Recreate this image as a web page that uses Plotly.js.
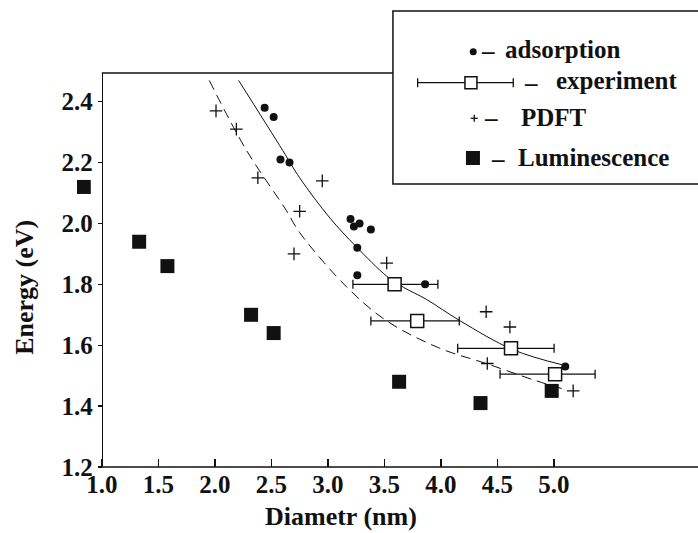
<!DOCTYPE html>
<html>
<head>
<meta charset="utf-8">
<script src="https://cdn.plot.ly/plotly-3.0.1.min.js"></script>
</head>
<body style="margin:0">
<div id="chart" style="width:698px;height:533px"></div>
<script>
// ---- data ----
var lumX = [0.84, 1.33, 1.58, 2.32, 2.52, 3.63, 4.35, 4.98];
var lumY = [2.12, 1.94, 1.86, 1.70, 1.64, 1.48, 1.41, 1.45];

var adsX = [2.44, 2.52, 2.58, 2.66, 3.20, 3.23, 3.28, 3.38, 3.26, 3.26, 3.86, 5.10];
var adsY = [2.38, 2.35, 2.21, 2.20, 2.015, 1.99, 2.00, 1.98, 1.92, 1.83, 1.80, 1.53];

var pdftX = [2.01, 2.19, 2.38, 2.70, 2.75, 2.95, 3.52, 4.40, 4.61, 4.41, 5.17];
var pdftY = [2.37, 2.31, 2.15, 1.90, 2.04, 2.14, 1.87, 1.71, 1.66, 1.54, 1.45];

var expX = [3.59, 3.79, 4.62, 5.01];
var expY = [1.80, 1.68, 1.59, 1.505];
var expErrPlus = [0.383, 0.372, 0.381, 0.354];
var expErrMinus = [0.369, 0.410, 0.472, 0.487];

var fitAdsX = [2.21, 2.60, 2.75, 3.02, 3.25, 3.52, 3.67, 3.87, 4.17, 4.64, 5.08];
var fitAdsY = [2.47, 2.24, 2.15, 2.017, 1.924, 1.827, 1.79, 1.751, 1.68, 1.585, 1.535];

var fitPdftX = [1.95, 2.28, 2.63, 2.75, 3.17, 3.52, 3.99, 4.40, 4.82, 5.11];
var fitPdftY = [2.47, 2.24, 2.044, 1.97, 1.79, 1.68, 1.59, 1.54, 1.486, 1.453];

var xTicks = [1.0, 1.5, 2.0, 2.5, 3.0, 3.5, 4.0, 4.5, 5.0];
var yTicks = [1.2, 1.4, 1.6, 1.8, 2.0, 2.2, 2.4];

var legendLabels = ['adsorption', 'experiment', 'PDFT', 'Luminescence'];
var xTitle = 'Diametr (nm)';
var yTitle = 'Energy (eV)';

// ---- layout geometry ----
var W = 698, H = 533, MT = 73, MB = 66;
var XPX = 113;
var SPINE = 102;
var XMIN = 0.78;
var ML = SPINE - (1.0 - XMIN) * XPX, MR = 0;
var PW = W - ML - MR, PH = H - MT - MB;
function px(x) { return (x - ML) / PW; }
function py(y) { return (H - MB - y) / PH; }

var serifFamily = 'Liberation Serif';
var INK = '#111';
function mkFont(size) { return { family: serifFamily, size: size, color: INK, weight: 'bold' }; }

var traces = [
  { x: fitAdsX, y: fitAdsY, mode: 'lines', line: { color: INK, width: 1, shape: 'spline', smoothing: 1 }, hoverinfo: 'skip', showlegend: false },
  { x: fitPdftX, y: fitPdftY, mode: 'lines', line: { color: INK, width: 1, shape: 'spline', smoothing: 1, dash: '10px,6px' }, hoverinfo: 'skip', showlegend: false },
  { x: lumX, y: lumY, mode: 'markers', name: legendLabels[3],
    marker: { symbol: 'square', size: 14, color: INK } },
  { x: adsX, y: adsY, mode: 'markers', name: legendLabels[0],
    marker: { symbol: 'circle', size: 8, color: INK } },
  { x: pdftX, y: pdftY, mode: 'markers', name: legendLabels[2], cliponaxis: false,
    marker: { symbol: 'cross-thin-open', size: 9, color: INK, line: { color: INK, width: 1.3 } } },
  { x: expX, y: expY, mode: 'markers', name: legendLabels[1], cliponaxis: false,
    error_x: { type: 'data', symmetric: false, array: expErrPlus, arrayminus: expErrMinus, color: INK, thickness: 1.3, width: 4.5 },
    marker: { symbol: 'square', size: 13, color: '#fff', line: { color: INK, width: 1.5 } } }
];

var lx0 = 393, ly0 = 11, ly1 = 184;
var shapes = [
  { type: 'line', xref: 'paper', yref: 'paper', x0: px(SPINE), x1: 1.02, y0: 0, y1: 0, line: { color: INK, width: 1.5 } },
  { type: 'line', xref: 'paper', yref: 'paper', x0: px(SPINE), x1: px(lx0), y0: 1, y1: 1, line: { color: INK, width: 1.5 } },
  { type: 'rect', xref: 'paper', yref: 'paper', x0: px(lx0), x1: px(W + 10), y0: py(ly1), y1: py(ly0), fillcolor: '#fff', line: { color: INK, width: 1.5 }, layer: 'above' },
  { type: 'circle', xref: 'paper', yref: 'paper', x0: px(469.8), x1: px(476.8), y0: py(55.2), y1: py(48.2), fillcolor: INK, line: { color: INK, width: 0 } },
  { type: 'line', xref: 'paper', yref: 'paper', x0: px(417.7), x1: px(513.3), y0: py(82.7), y1: py(82.7), line: { color: INK, width: 1.3 } },
  { type: 'line', xref: 'paper', yref: 'paper', x0: px(417.7), x1: px(417.7), y0: py(78.2), y1: py(87.2), line: { color: INK, width: 1.3 } },
  { type: 'line', xref: 'paper', yref: 'paper', x0: px(513.3), x1: px(513.3), y0: py(78.2), y1: py(87.2), line: { color: INK, width: 1.3 } },
  { type: 'rect', xref: 'paper', yref: 'paper', x0: px(465), x1: px(477), y0: py(88.7), y1: py(76.7), fillcolor: '#fff', line: { color: INK, width: 1.5 } },
  { type: 'line', xref: 'paper', yref: 'paper', x0: px(470.8), x1: px(477.8), y0: py(118.3), y1: py(118.3), line: { color: INK, width: 1.3 } },
  { type: 'line', xref: 'paper', yref: 'paper', x0: px(474.3), x1: px(474.3), y0: py(114.8), y1: py(121.8), line: { color: INK, width: 1.3 } },
  { type: 'rect', xref: 'paper', yref: 'paper', x0: px(466), x1: px(480), y0: py(165), y1: py(151), fillcolor: INK, line: { color: INK, width: 0 } }
];

function ann(text, x, y, size, anchor, angle) {
  return { text: text, xref: 'paper', yref: 'paper', x: px(x), y: py(y), xanchor: anchor, yanchor: 'middle',
    showarrow: false, textangle: angle || 0, font: mkFont(size) };
}

var annotations = [
  ann('\u2013', 488.5, 50, 25, 'center'),
  ann(legendLabels[0], 503, 49, 25, 'left'),
  ann('\u2013', 531, 83, 25, 'center'),
  ann(legendLabels[1], 554, 81, 25, 'left'),
  ann('\u2013', 491.5, 118, 25, 'center'),
  ann(legendLabels[2], 519, 117, 25, 'left'),
  ann('\u2013', 498.5, 158, 25, 'center'),
  ann(legendLabels[3], 516, 157, 25, 'left'),
  ann(xTitle, 341.5, 516, 26, 'center'),
  ann(yTitle, 24, 287, 26, 'center', -90)
];

var layout = {
  width: W, height: H,
  margin: { l: ML, r: MR, t: MT, b: MB, pad: 0 },
  paper_bgcolor: '#fff', plot_bgcolor: '#fff',
  showlegend: false,
  xaxis: {
    range: [XMIN, XMIN + PW / XPX], tickvals: xTicks, ticktext: xTicks.map(function (v) { return v.toFixed(1); }),
    showline: false,
    ticks: 'inside', ticklen: 8, tickwidth: 1.3, tickcolor: INK,
    showgrid: false, zeroline: false,
    tickfont: mkFont(25)
  },
  yaxis: {
    range: [1.2, 1.2 + PH / 304.4], tickvals: yTicks, ticktext: yTicks.map(function (v) { return v.toFixed(1); }),
    anchor: 'free', position: px(SPINE), side: 'left',
    showline: true, linecolor: INK, linewidth: 1.5, mirror: false,
    ticks: 'outside', ticklen: 4, tickwidth: 1.3, tickcolor: INK,
    showgrid: false, zeroline: false,
    tickfont: mkFont(25)
  },
  shapes: shapes,
  annotations: annotations
};

Plotly.newPlot('chart', traces, layout, { staticPlot: true });
</script>
</body>
</html>
